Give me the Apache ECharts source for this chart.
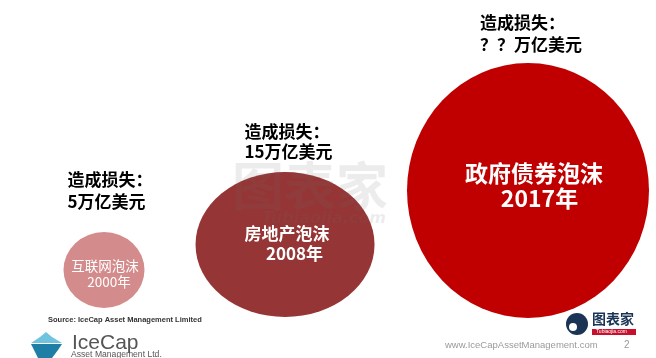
<!DOCTYPE html>
<html><head><meta charset="utf-8">
<script src="https://cdn.jsdelivr.net/npm/echarts@6/dist/echarts.min.js"></script>
<style>html,body{margin:0;padding:0;background:#fff}#c{width:656px;height:358px}</style>
</head><body><div id="c"></div>
<script>
// ---- data ----
const bubbleNames = ['互联网泡沫', '房地产泡沫', '政府债券泡沫'];
const years = [2000, 2008, 2017];
const lossTitle = '造成损失：';
const lossLabels = ['5万亿美元', '15万亿美元', '？？万亿美元'];

// ---- styles (per bubble) ----
const bubbleStyle = [
  { color: '#D38B8B', size: [81, 76],   shift: [0, -43],      font: 13.5, weight: 'normal', lh: 16, textOffset: [1, 4],  indent: 8,  lossPos: [4, -19],  lossLH: 22 },
  { color: '#963535', size: [179, 145], shift: [-18.5, -68.5], font: 17, weight: 'bold',   lh: 20, textOffset: [2, -1], indent: 15, lossPos: [49, -10], lossLH: 20 },
  { color: '#C00000', size: [242, 255], shift: [0, -122.5],   font: 23, weight: 'bold',   lh: 25, textOffset: [6, -5], indent: 11, lossPos: [73, -7],  lossLH: 22 }
];
const CJK = '"Noto Sans CJK SC", sans-serif';

const bubbleData = years.map((y, i) => {
  const s = bubbleStyle[i];
  return {
    name: bubbleNames[i],
    value: [y, 0],
    symbolSize: s.size,
    symbolOffset: s.shift,
    itemStyle: { color: s.color, opacity: 1 },
    label: {
      show: true, position: 'inside', offset: s.textOffset,
      formatter: '{a|' + bubbleNames[i] + '}\n{b|' + years[i] + '年}',
      rich: {
        a: { color: '#fff', fontSize: s.font, fontWeight: s.weight, fontFamily: CJK, lineHeight: s.lh, align: 'center' },
        b: { color: '#fff', fontSize: s.font, fontWeight: s.weight, fontFamily: CJK, lineHeight: s.lh, align: 'center', padding: [0, 0, 0, s.indent] }
      }
    }
  };
});

const lossData = years.map((y, i) => {
  const s = bubbleStyle[i];
  return {
    name: lossLabels[i],
    value: [y, 0],
    symbolSize: s.size,
    symbolOffset: s.shift,
    itemStyle: { color: 'rgba(0,0,0,0)', opacity: 1 },
    label: {
      show: true, position: s.lossPos, align: 'left', verticalAlign: 'bottom',
      formatter: lossTitle + '\n' + lossLabels[i],
      color: '#000', fontSize: 17, fontWeight: 'bold', fontFamily: CJK, lineHeight: s.lossLH
    }
  };
});

const chart = echarts.init(document.getElementById('c'), null, { renderer: 'canvas' });
// x: 2000 -> px 104, 2017 -> px 528
const pxPerYear = (528 - 104) / 17;
chart.setOption({
  backgroundColor: '#fff',
  animation: false,
  grid: { left: 0, right: 0, top: 0, bottom: 45, containLabel: false },
  xAxis: { type: 'value', min: 2000 - 104 / pxPerYear, max: 2000 + (656 - 104) / pxPerYear, show: false },
  yAxis: { type: 'value', min: 0, max: 1, show: false },
  series: [
    { type: 'scatter', data: bubbleData, clip: false, silent: true, z: 2, itemStyle: { opacity: 1 } },
    { type: 'scatter', data: lossData, clip: false, silent: true, z: 3, itemStyle: { opacity: 1 } }
  ],
  graphic: [
    // watermark
    { type: 'text', z: 50, silent: true, style: { text: '图表家', x: 232, y: 160, fill: 'rgba(110,110,110,0.13)', font: 'bold 52px "Noto Sans CJK SC"' } },
    { type: 'text', z: 50, silent: true, style: { text: 'Tubiaojia.com', x: 262, y: 211, fill: 'rgba(110,110,110,0.13)', font: 'italic bold 16px "DejaVu Sans"' } },
    // source
    { type: 'text', style: { text: 'Source: IceCap Asset Management Limited', x: 48, y: 316, fill: '#333', font: 'bold 7.5px "Liberation Sans"' } },
    // IceCap logo
    { type: 'polygon', shape: { points: [[46, 332], [52, 337], [62, 343], [31, 343], [40, 337]] }, style: { fill: '#6FC3DF' } },
    { type: 'polygon', shape: { points: [[31, 344], [62, 344], [58, 350], [52, 358], [38, 358], [34, 350]] }, style: { fill: '#1E7EA6' } },
    { type: 'text', style: { text: 'IceCap', x: 72, y: 333, fill: '#555', font: '21px "Liberation Sans"' } },
    { type: 'text', style: { text: 'Asset Management Ltd.', x: 71, y: 350, fill: '#555', font: '8.6px "Liberation Sans"' } },
    // website & page
    { type: 'text', style: { text: 'www.IceCapAssetManagement.com', x: 445, y: 340, fill: '#9a9a9a', font: '9.5px "Liberation Sans"' } },
    { type: 'text', style: { text: '2', x: 624, y: 340, fill: '#9a9a9a', font: '10px "Liberation Sans"' } },
    // tubiaojia logo
    { type: 'circle', shape: { cx: 577, cy: 324, r: 11 }, style: { fill: '#1B3456' } },
    { type: 'circle', shape: { cx: 573, cy: 327, r: 4 }, style: { fill: '#fff' } },
    { type: 'text', style: { text: '图表家', x: 592, y: 312, fill: '#1B3456', font: 'bold 14px "Noto Sans CJK SC"' } },
    { type: 'rect', shape: { x: 592, y: 329, width: 44, height: 6 }, style: { fill: '#C8102E' } },
    { type: 'text', style: { text: 'Tubiaojia.com', x: 596, y: 329.5, fill: '#fff', font: '5px "Liberation Sans"' } }
  ]
});
</script>
</body></html>
